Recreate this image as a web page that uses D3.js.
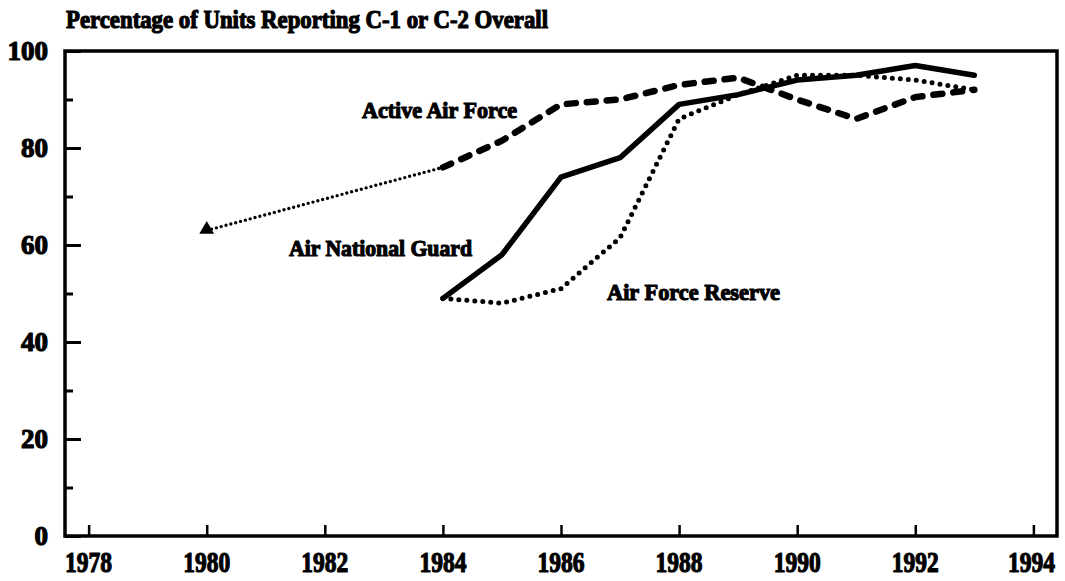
<!DOCTYPE html>
<html>
<head>
<meta charset="utf-8">
<script src="https://cdn.jsdelivr.net/npm/d3@7"></script>
<style>
  body { margin: 0; background: #fff; }
  text { font-family: "Liberation Serif", "DejaVu Serif", serif; font-weight: bold; fill: #000; stroke: #000; stroke-width: 1.2px; stroke-linejoin: round; }
</style>
</head>
<body>
<svg id="chart" width="1065" height="581"></svg>
<script>
// values
var years = [1984, 1985, 1986, 1987, 1988, 1989, 1990, 1991, 1992, 1993];
var activeAF = [76, 81.5, 89, 90, 93, 94.5, 90, 86, 90.5, 92];
var airGuard = [49, 58, 74, 78, 89, 91, 94, 95, 97, 95];
var afReserve = [49, 48, 51, 61.5, 86, 91, 95, 95, 94, 92];
var earlyYears = [1980, 1984];
var earlyActive = [63, 76];
var xTicks = [1978, 1980, 1982, 1984, 1986, 1988, 1990, 1992, 1994];
var yTicks = [0, 20, 40, 60, 80, 100];
var yMinor = [10, 30, 50, 70, 90];

var svg = d3.select('#chart');
var x = d3.scaleLinear().domain([1977.6, 1994.4]).range([65, 1057]);
var y = d3.scaleLinear().domain([0, 100]).range([536, 51]);

// frame
svg.append('rect')
    .attr('x', x(1977.6)).attr('y', y(100))
    .attr('width', x(1994.4) - x(1977.6)).attr('height', y(0) - y(100))
    .attr('fill', 'none').attr('stroke', '#000').attr('stroke-width', 3.5);

// x ticks, pointing inwards
var xAxis = d3.axisTop(x).tickValues(xTicks).tickSize(11).tickFormat('');
svg.append('g').attr('transform', 'translate(0,' + y(0) + ')').call(xAxis)
    .call(function(g) { g.select('.domain').remove(); g.selectAll('line').attr('stroke-width', 2.5); });

svg.selectAll('.xlab').data(xTicks).enter().append('text')
    .attr('class', 'xlab')
    .attr('x', function(d) { return x(d) - (d === 1994 ? 2 : 0); })
    .attr('y', 572)
    .attr('text-anchor', 'middle')
    .attr('font-size', 29)
    .attr('textLength', 47).attr('lengthAdjust', 'spacingAndGlyphs')
    .text(function(d) { return d; });

// y ticks
var yAxis = d3.axisRight(y).tickValues(yTicks).tickSize(16).tickFormat('');
svg.append('g').attr('transform', 'translate(' + x(1977.6) + ',0)').call(yAxis)
    .call(function(g) { g.select('.domain').remove(); g.selectAll('line').attr('stroke-width', 3); });
var yAxisMinor = d3.axisRight(y).tickValues(yMinor).tickSize(8).tickFormat('');
svg.append('g').attr('transform', 'translate(' + x(1977.6) + ',0)').call(yAxisMinor)
    .call(function(g) { g.select('.domain').remove(); g.selectAll('line').attr('stroke-width', 3); });

svg.selectAll('.ylab').data(yTicks).enter().append('text')
    .attr('class', 'ylab')
    .attr('x', 48)
    .attr('y', function(d) { return y(d) + 9; })
    .attr('text-anchor', 'end')
    .attr('font-size', 27)
    .attr('textLength', function(d) { return String(d).length * 13.5; })
    .attr('lengthAdjust', 'spacingAndGlyphs')
    .text(function(d) { return d; });

// title
svg.append('text')
    .attr('x', 66).attr('y', 28)
    .attr('font-size', 25)
    .attr('textLength', 482).attr('lengthAdjust', 'spacingAndGlyphs')
    .text('Percentage of Units Reporting C-1 or C-2 Overall');

var line = d3.line()
    .x(function(d) { return x(d[0]); })
    .y(function(d) { return y(d[1]); });

function pairs(xs, vs) { return xs.map(function(v, i) { return [v, vs[i]]; }); }

// 1980-1984 thin dotted segment
svg.append('path').datum(pairs(earlyYears, earlyActive))
    .attr('d', line).attr('fill', 'none').attr('stroke', '#000')
    .attr('stroke-width', 3.4).attr('stroke-linecap', 'round').attr('stroke-dasharray', '0 5');

svg.append('path').datum(pairs(years, afReserve))
    .attr('d', line).attr('fill', 'none').attr('stroke', '#000')
    .attr('stroke-width', 5).attr('stroke-linecap', 'round').attr('stroke-dasharray', '0 8');

svg.append('path').datum(pairs(years, airGuard))
    .attr('d', line).attr('fill', 'none').attr('stroke', '#000')
    .attr('stroke-width', 5.5).attr('stroke-linejoin', 'round').attr('stroke-linecap', 'round');

svg.append('path').datum(pairs(years, activeAF))
    .attr('d', line).attr('fill', 'none').attr('stroke', '#000')
    .attr('stroke-width', 6.5).attr('stroke-linecap', 'round').attr('stroke-dasharray', '9 11');

svg.append('path')
    .attr('d', d3.symbol().type(d3.symbolTriangle).size(95))
    .attr('transform', 'translate(' + x(earlyYears[0]) + ',' + (y(earlyActive[0]) - 1) + ')')
    .attr('fill', '#000');

// series labels
var labels = [
    { t: 'Active Air Force', x: 362, y: 118, w: 155 },
    { t: 'Air National Guard', x: 289, y: 256, w: 183 },
    { t: 'Air Force Reserve', x: 607, y: 300, w: 173 }
];
svg.selectAll('.slab').data(labels).enter().append('text')
    .attr('class', 'slab')
    .attr('x', function(d) { return d.x; })
    .attr('y', function(d) { return d.y; })
    .attr('font-size', 24)
    .attr('textLength', function(d) { return d.w; }).attr('lengthAdjust', 'spacingAndGlyphs')
    .text(function(d) { return d.t; });
</script>
</body>
</html>
